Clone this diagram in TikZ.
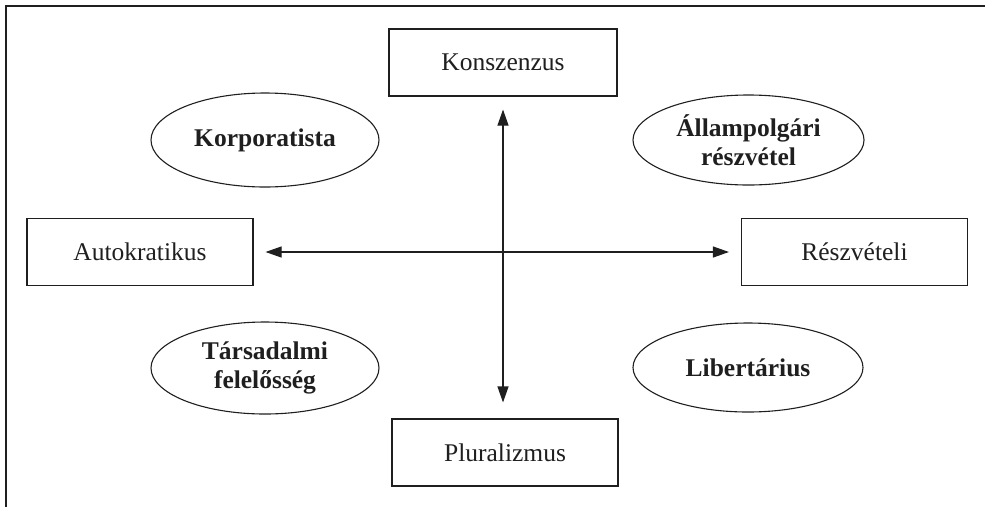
\documentclass[tikz,border=0pt]{standalone}
\usepackage{fontspec}
\setmainfont{Liberation Serif}
\usetikzlibrary{arrows.meta,shapes.geometric}

\begin{document}
\begin{tikzpicture}[x=1pt,y=-1pt,line width=1.1pt,draw=black!88,
  >={Triangle[length=16pt,width=11pt]}]
\tikzset{PoleStyle/.style = {draw,rectangle,inner sep=0pt,
                             minimum width=226pt,minimum height=67pt,
                             font=\fontsize{25.5}{29}\selectfont,text=black!88},
         ModelStyle/.style = {draw,ellipse,inner sep=0pt,align=center,
                              minimum width=228pt,minimum height=92pt,
                              font=\fontsize{25.5}{29}\selectfont\bfseries,text=black!88}}
\useasboundingbox (0,0) rectangle (985,507);
\draw (985,6) -- (6,6) -- (6,507);

\node[PoleStyle,minimum width=228pt] (konsz) at (503,62.5) {Konszenzus};
\node[PoleStyle] (auto)  at (140,252)   {Autokratikus};
\node[PoleStyle] (resz)  at (854.5,252) {Részvételi};
\node[PoleStyle] (plur)  at (505,452.5) {Pluralizmus};

\node[ModelStyle,minimum height=94pt] (korp) at (265,140)  {Korporatista};
\node[ModelStyle,minimum width=231pt,minimum height=90pt] (allam) at (748.5,140) {Állampolgári\\részvétel};
\node[ModelStyle] (tars) at (265,368)  {Társadalmi\\felelősség};
\node[ModelStyle,minimum width=230pt,minimum height=89pt] (lib) at (748,367.5) {Libertárius};

\draw[<->,shorten <=12pt,shorten >=12pt] (auto.east) -- (resz.west);
\draw[<->,shorten <=13pt,shorten >=16pt] (konsz.south) -- (konsz.south |- plur.north);
\end{tikzpicture}
\end{document}
